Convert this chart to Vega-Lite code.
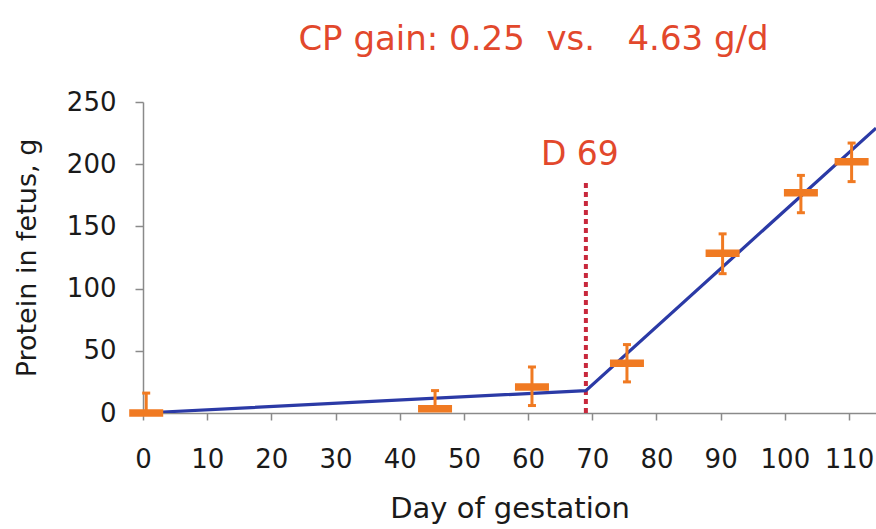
{
  "$schema": "https://vega.github.io/schema/vega-lite/v6.json",
  "width": 733,
  "height": 311,
  "autosize": {"type": "none"},
  "padding": {"left": 143, "top": 102, "right": 0, "bottom": 116},
  "background": "white",
  "config": {
    "view": {"stroke": null},
    "font": "DejaVu Sans",
    "axis": {
      "grid": false,
      "domainColor": "#8a8a8a",
      "domainWidth": 1.5,
      "tickColor": "#8a8a8a",
      "tickWidth": 1.5,
      "labelFont": "DejaVu Sans",
      "labelFontSize": 26,
      "labelColor": "#1a1a1a",
      "labelFlush": false,
      "labelOverlap": false,
      "titleFont": "DejaVu Sans",
      "titleFontWeight": "normal",
      "titleColor": "#1a1a1a"
    },
    "axisX": {
      "tickSize": 7,
      "labelPadding": 26,
      "titleFontSize": 29,
      "titleBaseline": "alphabetic",
      "titleY": 104
    },
    "axisY": {
      "tickSize": 8,
      "labelPadding": 19,
      "titleFontSize": 27,
      "titleBaseline": "alphabetic",
      "titleX": -108
    }
  },
  "title": {
    "text": "CP gain: 0.25\u00a0\u00a0vs.\u00a0\u00a0\u00a04.63 g/d",
    "font": "DejaVu Sans",
    "fontSize": 34,
    "fontWeight": "normal",
    "color": "#e2482c",
    "anchor": "middle",
    "frame": "group",
    "dx": 24,
    "dy": 14,
    "baseline": "alphabetic",
    "offset": 19
  },
  "datasets": {
    "obs": [
      {"day": 0.5, "value": 0, "lo": 0, "hi": 16, "locap": null},
      {"day": 45.5, "value": 3.5, "lo": 3.5, "hi": 18, "locap": null},
      {"day": 60.6, "value": 21, "lo": 6, "hi": 37, "locap": 6},
      {"day": 75.4, "value": 40, "lo": 25, "hi": 55, "locap": 25},
      {"day": 90.3, "value": 128.5, "lo": 112, "hi": 144, "locap": 112},
      {"day": 102.5, "value": 177, "lo": 161, "hi": 191, "locap": 161},
      {"day": 110.4, "value": 202, "lo": 186, "hi": 217, "locap": 186}
    ],
    "fit": [
      {"day": 0, "value": 0},
      {"day": 69, "value": 18},
      {"day": 114.2, "value": 229}
    ],
    "cut": [
      {"day": 69, "value": 0, "top": 186, "labely": 199, "label": "D 69"}
    ]
  },
  "encoding": {
    "x": {
      "field": "day",
      "type": "quantitative",
      "scale": {"domain": [0, 114.2], "nice": false, "zero": false},
      "axis": {"values": [0, 10, 20, 30, 40, 50, 60, 70, 80, 90, 100, 110], "title": "Day of gestation"}
    }
  },
  "layer": [
    {
      "data": {"name": "cut"},
      "mark": {"type": "rule", "color": "#c8283c", "strokeWidth": 4, "strokeDash": [5, 4]},
      "encoding": {
        "y": {"field": "value", "type": "quantitative", "scale": {"domain": [0, 250], "nice": false}, "axis": {"values": [0, 50, 100, 150, 200, 250], "title": "Protein in fetus, g"}},
        "y2": {"field": "top"}
      }
    },
    {
      "data": {"name": "fit"},
      "mark": {"type": "line", "color": "#2b3aa6", "strokeWidth": 3.2, "clip": true},
      "encoding": {
        "y": {"field": "value", "type": "quantitative", "scale": {"domain": [0, 250], "nice": false}, "axis": {"values": [0, 50, 100, 150, 200, 250], "title": "Protein in fetus, g"}}
      }
    },
    {
      "data": {"name": "obs"},
      "mark": {"type": "rule", "color": "#f07a22", "strokeWidth": 3},
      "encoding": {
        "y": {"field": "lo", "type": "quantitative", "scale": {"domain": [0, 250], "nice": false}, "axis": {"values": [0, 50, 100, 150, 200, 250], "title": "Protein in fetus, g"}},
        "y2": {"field": "hi"}
      }
    },
    {
      "data": {"name": "obs"},
      "mark": {"type": "tick", "orient": "horizontal", "color": "#f07a22", "size": 8, "thickness": 3, "opacity": 1},
      "encoding": {
        "y": {"field": "hi", "type": "quantitative", "scale": {"domain": [0, 250], "nice": false}, "axis": {"values": [0, 50, 100, 150, 200, 250], "title": "Protein in fetus, g"}}
      }
    },
    {
      "data": {"name": "obs"},
      "mark": {"type": "tick", "orient": "horizontal", "color": "#f07a22", "size": 8, "thickness": 3, "opacity": 1},
      "encoding": {
        "y": {"field": "locap", "type": "quantitative", "scale": {"domain": [0, 250], "nice": false}, "axis": {"values": [0, 50, 100, 150, 200, 250], "title": "Protein in fetus, g"}}
      }
    },
    {
      "data": {"name": "obs"},
      "mark": {"type": "tick", "orient": "horizontal", "color": "#f07a22", "size": 34, "thickness": 7.5, "opacity": 1},
      "encoding": {
        "y": {"field": "value", "type": "quantitative", "scale": {"domain": [0, 250], "nice": false}, "axis": {"values": [0, 50, 100, 150, 200, 250], "title": "Protein in fetus, g"}}
      }
    },
    {
      "data": {"name": "cut"},
      "mark": {"type": "text", "font": "DejaVu Sans", "fontSize": 33, "color": "#e2482c", "align": "center", "baseline": "alphabetic", "dx": -6},
      "encoding": {
        "y": {"field": "labely", "type": "quantitative", "scale": {"domain": [0, 250], "nice": false}, "axis": {"values": [0, 50, 100, 150, 200, 250], "title": "Protein in fetus, g"}},
        "text": {"field": "label"}
      }
    }
  ]
}
